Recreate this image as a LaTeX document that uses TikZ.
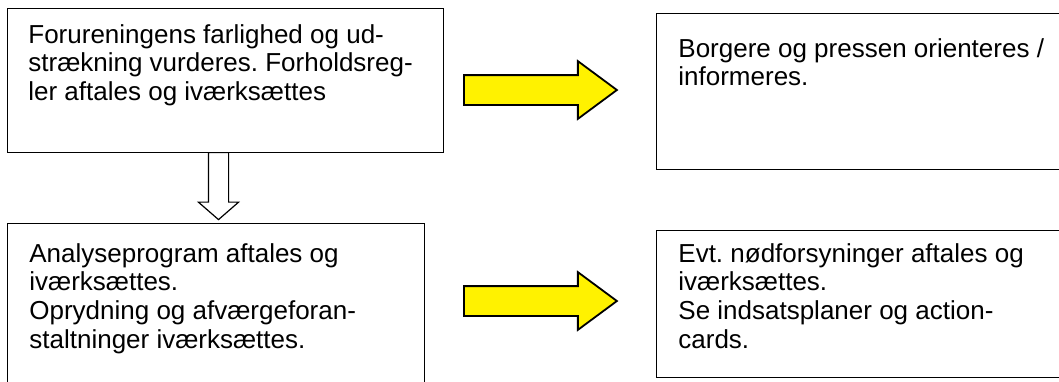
\documentclass[tikz,border=0pt]{standalone}
\usepackage{fontspec}
\setmainfont{Liberation Sans}
\usetikzlibrary{positioning,shapes.arrows}
\frenchspacing

\tikzset{
  box/.style={draw, line width=0.7pt, anchor=north west, inner sep=0pt},
  boxtext/.style={anchor=north west, inner sep=0pt, align=left,
    font=\fontsize{13}{14.3}\selectfont},
  yellowarrow/.style={single arrow, draw, line width=0.9pt, fill=yellow,
    inner sep=0pt, text height=14pt, text depth=0pt, minimum height=76.5pt,
    single arrow head extend=7pt, single arrow tip angle=73, anchor=tail},
  downarrow/.style={single arrow, draw, line width=0.6pt, fill=white,
    inner sep=0pt, text height=9.5pt, text depth=0pt, minimum height=33.5pt,
    single arrow head extend=5pt, single arrow tip angle=98, rotate=-90,
    anchor=tail}
}

\begin{document}
\begin{tikzpicture}[x=0.5pt, y=-0.5pt]
                    \clip (0,0) rectangle (1059,381);
                    \node[box, minimum width=218pt, minimum height=72pt] (assess) at (7,8) {};
                    \node[box, minimum width=208.5pt, minimum height=83.5pt] (analysis) at (7,223) {};
                    \node[box, minimum width=207pt, minimum height=78pt] (inform) at (656,13) {};
                    \node[box, minimum width=207pt, minimum height=73.5pt] (supply) at (656,230) {};
                    \node[boxtext, below right=8pt and 10.5pt of assess.north west] (assesstext)
                      {Forureningens farlighed og ud-\\strækning vurderes. Forholdsreg-\\ler aftales og iværksættes};
                    \node[boxtext, below right=10pt and 11pt of analysis.north west] (analysistext)
                      {Analyseprogram aftales og\\iværksættes.\\Oprydning og afværgeforan-\\staltninger iværksættes.};
                    \node[boxtext, below right=12.5pt and 11pt of inform.north west] (informtext)
                      {Borgere og pressen orienteres /\\informeres.};
                    \node[boxtext, below right=6.5pt and 11pt of supply.north west] (supplytext)
                      {Evt. nødforsyninger aftales og\\iværksættes.\\Se indsatsplaner og action-\\cards.};
                    \node[yellowarrow] (toinform) at (463,90) {};
                    \node[yellowarrow] (tosupply) at (463,301) {};
                    \node[downarrow] (toanalysis) at (218.5,152) {};
                  \end{tikzpicture}
\end{document}
